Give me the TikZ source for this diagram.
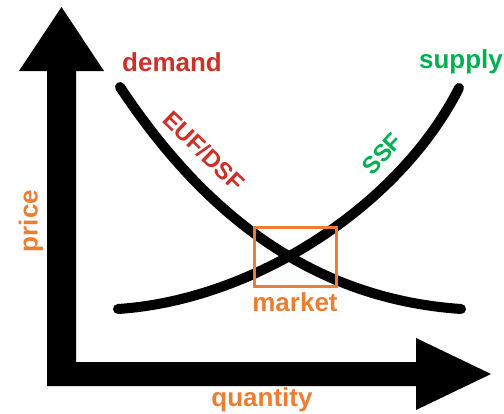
\documentclass[tikz,border=0pt]{standalone}
\usepackage{fontspec}
\setmainfont{Liberation Sans}
\begin{document}
\begin{tikzpicture}[x=1pt,y=-1pt,
  curve/.style={line width=10pt,line cap=round,black},
  axisshape/.style={fill=black,draw=none},
  lbl/.style={font=\fontsize{26}{30}\selectfont\bfseries,inner sep=0pt},
  small/.style={font=\fontsize{24}{28}\selectfont\bfseries,inner sep=0pt},
  boxstyle/.style={draw=orangeC,line width=3pt}]
\definecolor{redC}{RGB}{204,48,40}
\definecolor{greenC}{RGB}{0,176,80}
\definecolor{orangeC}{RGB}{237,125,49}
\useasboundingbox (0,0) rectangle (504,413);
% axes: one L-shaped body with two arrow heads
\fill[axisshape] (47,71) -- (19,71) -- (61.5,7) -- (104,71) -- (76,71)
  -- (76,362) -- (416,362) -- (416,338) -- (491,374) -- (416,410)
  -- (416,386) -- (47,386) -- cycle;
% demand and supply curves
\coordinate (d0) at (120,87);
\coordinate (d1) at (461,309);
\coordinate (s0) at (118,309);
\coordinate (s1) at (459,88);
\draw[curve] (d0) .. controls (195,200) and (300,298) .. (d1);
\draw[curve] (s0) .. controls (255,300) and (400,205) .. (s1);
% market box
\node[boxstyle,minimum width=82pt,minimum height=59pt,inner sep=0pt] (box) at (295,256.5) {};
% labels
\node[lbl,text=redC] (dem) at (172,62) {demand};
\node[lbl,text=greenC] (sup) at (461,62) {supply};
\node[small,text=redC,rotate=-44] (euf) at (204,151) {EUF/DSF};
\node[small,text=greenC,rotate=47] (ssf) at (382,154) {SSF};
\node[lbl,text=orangeC,rotate=90] (price) at (31,221) {price};
\node[lbl,text=orangeC] (qty) at (262,400) {quantity};
\node[lbl,text=orangeC] (mkt) at (295,302) {market};
\end{tikzpicture}
\end{document}
